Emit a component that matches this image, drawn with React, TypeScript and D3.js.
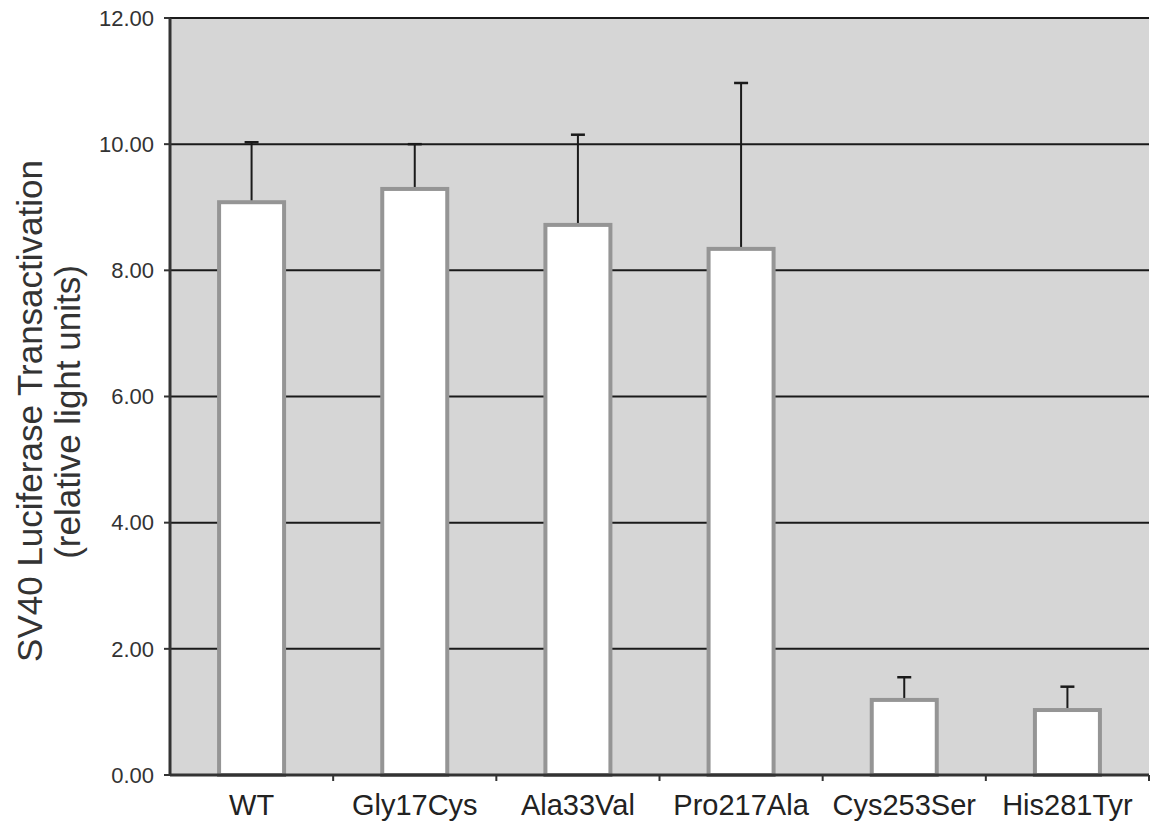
import React from "react";
import * as d3 from "d3";

const categories = ["WT", "Gly17Cys", "Ala33Val", "Pro217Ala", "Cys253Ser", "His281Tyr"];
const means = [9.08, 9.29, 8.72, 8.34, 1.19, 1.03];
const errorTops = [10.03, 10.0, 10.15, 10.97, 1.55, 1.4];
const yTicks = [0, 2, 4, 6, 8, 10, 12];

export default function App() {
  const W = 1150, H = 823;
  const left = 170, right = 1149, top = 18, bottom = 775;
  const xb = d3.scaleBand<string>().domain(categories).range([left, right]);
  const y = d3.scaleLinear().domain([0, 12]).range([bottom, top]);
  const font = "'Liberation Sans', Arial, sans-serif";
  const bw = 65;
  return (
    <svg width={W} height={H} style={{ position: "absolute", left: 0, top: 0 }} fontFamily={font}>
      <rect x={left} y={top} width={right - left} height={bottom - top} fill="#d6d6d6" />
      {yTicks.filter(t => t > 0).map(t => (
        <line key={t} x1={left} x2={right} y1={y(t)} y2={y(t)} stroke="#1a1a1a" strokeWidth={2} />
      ))}
      {categories.map((c, i) => {
        const cx = (xb(c) as number) + xb.bandwidth() / 2;
        return (
          <g key={c}>
            <line x1={cx} x2={cx} y1={y(means[i])} y2={y(errorTops[i])} stroke="#1a1a1a" strokeWidth={2} />
            <line x1={cx - 7} x2={cx + 7} y1={y(errorTops[i])} y2={y(errorTops[i])} stroke="#1a1a1a" strokeWidth={2.5} />
            <rect x={cx - bw / 2} y={y(means[i])} width={bw} height={bottom - y(means[i])} fill="#ffffff" stroke="#959595" strokeWidth={4} />
          </g>
        );
      })}
      <line x1={left} x2={left} y1={top} y2={bottom + 1} stroke="#333" strokeWidth={3} />
      <line x1={left} x2={right} y1={bottom} y2={bottom} stroke="#333" strokeWidth={3} />
      {yTicks.map(t => (
        <g key={t}>
          <line x1={left - 6} x2={left} y1={y(t)} y2={y(t)} stroke="#333" strokeWidth={2} />
          <text x={left - 16} y={y(t)} dy="0.35em" textAnchor="end" fontSize={22} fill="#333">{t.toFixed(2)}</text>
        </g>
      ))}
      {categories.map((c, i) => (
        <g key={c}>
          <line x1={(xb(c) as number) + xb.bandwidth()} x2={(xb(c) as number) + xb.bandwidth()} y1={bottom} y2={bottom + 6} stroke="#333" strokeWidth={2} />
          <text x={(xb(c) as number) + xb.bandwidth() / 2} y={815} textAnchor="middle" fontSize={29} fill="#222">{c}</text>
        </g>
      ))}
      <text transform={`translate(42, 411) rotate(-90)`} textAnchor="middle" fontSize={35} fill="#333">SV40 Luciferase Transactivation</text>
      <text transform={`translate(80, 412) rotate(-90)`} textAnchor="middle" fontSize={35} fill="#333">(relative light units)</text>
    </svg>
  );
}
